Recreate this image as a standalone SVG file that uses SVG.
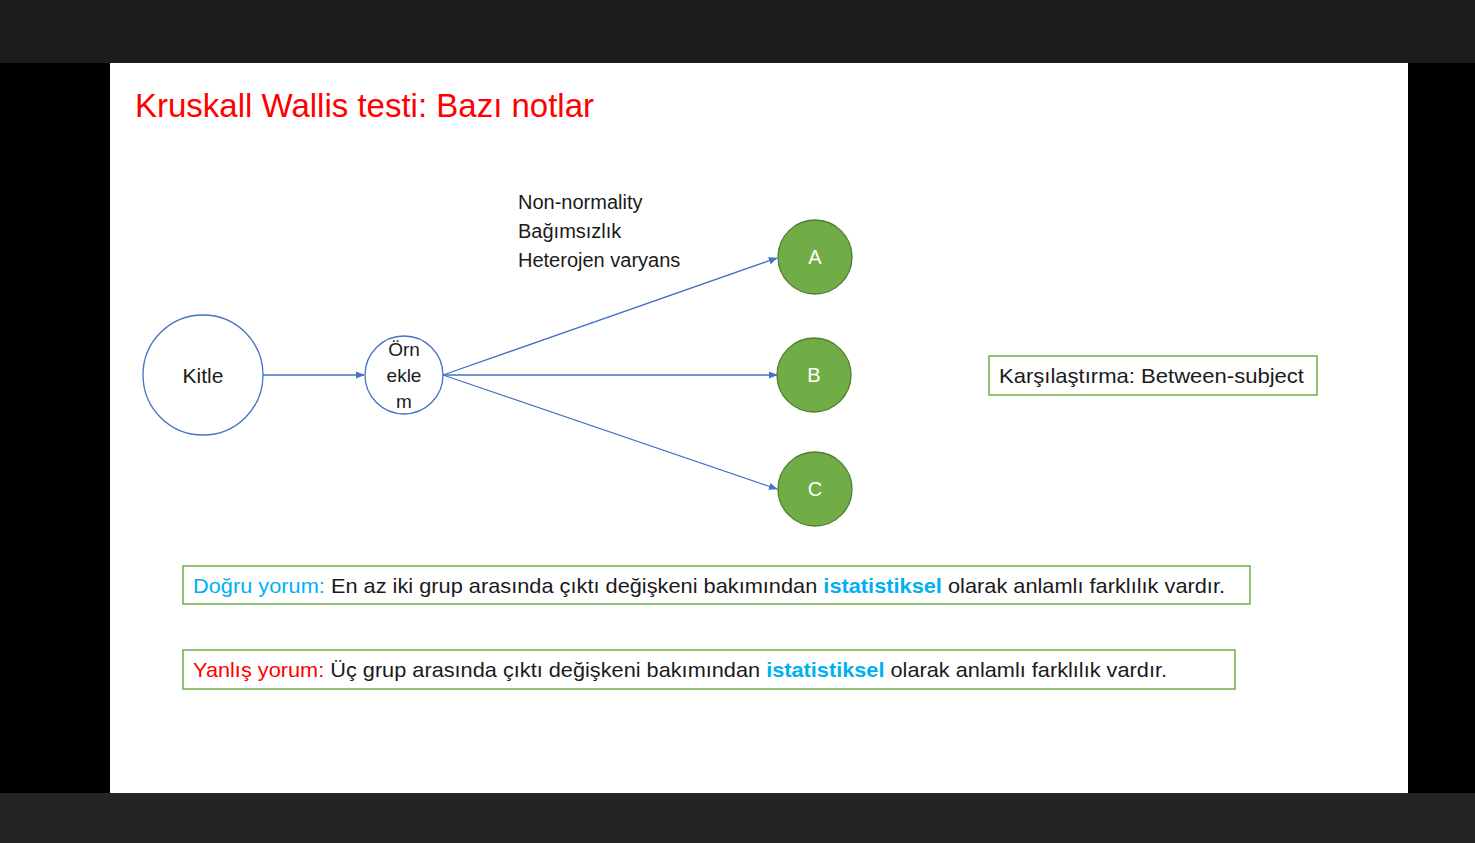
<svg xmlns="http://www.w3.org/2000/svg" width="1475" height="843" viewBox="0 0 1475 843">
<style>
text{font-family:"Liberation Sans",Arial,sans-serif;fill:#1a1a1a}
.blue{fill:none;stroke:#4472c4;stroke-width:1.3}
.grp{fill:#70ad47;stroke:#507e32;stroke-width:1.3}
.box{fill:#fff;stroke:#70ad47;stroke-width:1.5}
.w{fill:#fff;font-size:20px}
.c{fill:#00b0f0}
.r{fill:#ff0000}
</style>
<defs><marker id="ah" viewBox="0 0 10 10" refX="9" refY="5" markerWidth="7" markerHeight="7" orient="auto"><path d="M0,1 L10,5 L0,9 z" fill="#4472c4"/></marker></defs>
<rect width="1475" height="843" fill="#000"/>
<rect width="1475" height="63" fill="#1c1c1c"/>
<rect y="793" width="1475" height="50" fill="#242424"/>
<rect x="110" y="63" width="1298" height="730" fill="#fff"/>
<text x="135" y="117" font-size="33" class="r" textLength="459" lengthAdjust="spacingAndGlyphs">Kruskall Wallis testi: Bazı notlar</text>
<g id="connectors" class="blue">
<line x1="263" y1="375" x2="364" y2="375" marker-end="url(#ah)"/>
<line x1="443" y1="375" x2="777" y2="258" marker-end="url(#ah)"/>
<line x1="443" y1="375" x2="777" y2="375" marker-end="url(#ah)"/>
<line x1="443" y1="375" x2="777" y2="489" marker-end="url(#ah)"/>
</g>
<g id="kitle"><circle cx="203" cy="375" r="60" class="blue" fill="#fff"/><text x="203" y="383" font-size="21" text-anchor="middle">Kitle</text></g>
<g id="orneklem"><circle cx="404" cy="375" r="39" class="blue"/>
<text font-size="19" text-anchor="middle"><tspan x="404" y="356">Örn</tspan><tspan x="404" y="382">ekle</tspan><tspan x="404" y="408">m</tspan></text></g>
<g id="notes"><text font-size="20"><tspan x="518" y="209">Non-normality</tspan><tspan x="518" y="238">Bağımsızlık</tspan><tspan x="518" y="267">Heterojen varyans</tspan></text></g>
<g id="A"><circle cx="815" cy="257" r="37" class="grp"/><text x="815" y="264" class="w" text-anchor="middle">A</text></g>
<g id="B"><circle cx="814" cy="375" r="37" class="grp"/><text x="814" y="382" class="w" text-anchor="middle">B</text></g>
<g id="C"><circle cx="815" cy="489" r="37" class="grp"/><text x="815" y="496" class="w" text-anchor="middle">C</text></g>
<g id="karsilastirma"><rect x="989" y="356" width="328" height="39" class="box"/><text x="999" y="383" font-size="21" textLength="305" lengthAdjust="spacingAndGlyphs">Karşılaştırma: Between-subject</text></g>
<g id="dogru"><rect x="183" y="566" width="1067" height="38" class="box"/><text x="193" y="593" font-size="21" textLength="1032" lengthAdjust="spacingAndGlyphs"><tspan class="c">Doğru yorum:</tspan> En az iki grup arasında çıktı değişkeni bakımından <tspan class="c" font-weight="bold">istatistiksel</tspan> olarak anlamlı farklılık vardır.</text></g>
<g id="yanlis"><rect x="183" y="650" width="1052" height="39" class="box"/><text x="193" y="677" font-size="21" textLength="974" lengthAdjust="spacingAndGlyphs"><tspan class="r">Yanlış yorum:</tspan> Üç grup arasında çıktı değişkeni bakımından <tspan class="c" font-weight="bold">istatistiksel</tspan> olarak anlamlı farklılık vardır.</text></g>
</svg>
